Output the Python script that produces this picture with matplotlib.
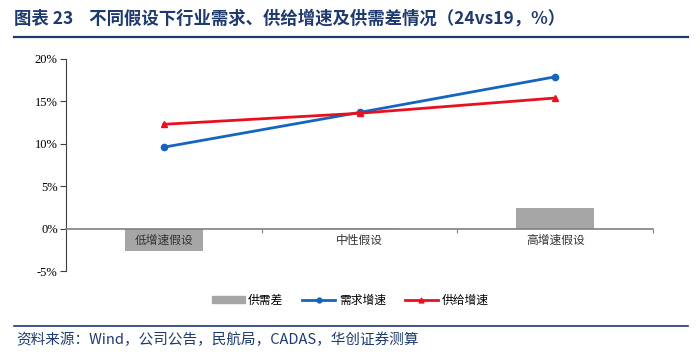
import matplotlib as mpl
import matplotlib.pyplot as plt
from matplotlib.lines import Line2D
from matplotlib.patches import Patch
import numpy as np

plt.rcParams['font.family'] = ['Noto Sans CJK SC', 'DejaVu Sans']

# data
categories = ['低增速假设', '中性假设', '高增速假设']
demand = [9.6, 13.7, 17.9]     # 需求增速
supply = [12.3, 13.6, 15.4]    # 供给增速
gap = [-2.7, 0.1, 2.4]         # 供需差
yticks = [-5, 0, 5, 10, 15, 20]

navy = '#1F3A6E'
blue = '#1565C0'
red = '#E8101E'
grey = '#A6A6A6'

fig = plt.figure(figsize=(7, 3.57), dpi=100)
W, H = 700, 357
ax = fig.add_axes([66 / W, 1 - 271 / H, (653 - 66) / W, (271 - 59) / H])

x = np.arange(len(categories))
ax.bar(x, gap, width=0.4, color=grey, zorder=1)
ax.plot(x, demand, color=blue, lw=2, marker='o', ms=4.5, zorder=3)
ax.plot(x, supply, color=red, lw=2, marker='^', ms=4.5, zorder=3)

ax.set_xlim(-0.5, 2.5)
ax.set_ylim(-5, 20)
ax.set_yticks(yticks)
ax.set_yticklabels([f'{v}%' for v in yticks], fontfamily='Liberation Serif', fontsize=9)

for s in ['top', 'right']:
    ax.spines[s].set_visible(False)
ax.spines['left'].set_color('#404040')
ax.spines['left'].set_linewidth(0.8)
ax.spines['bottom'].set_position(('data', 0))
ax.spines['bottom'].set_color('#808080')
ax.spines['bottom'].set_linewidth(1.2)
ax.tick_params(axis='y', length=4, width=0.8, color='#404040', pad=2)

ax.set_xticks(x)
ax.set_xticklabels(categories, fontsize=8.5, color='#333333')
ax.tick_params(axis='x', which='major', length=0, pad=4)
ax.set_xticks([0.5, 1.5, 2.5], minor=True)
ax.tick_params(axis='x', which='minor', length=3, width=0.8, color='#808080')

handles = [Patch(color=grey),
           Line2D([], [], color=blue, lw=2, marker='o', ms=3.5),
           Line2D([], [], color=red, lw=2, marker='^', ms=3.5)]
fig.legend(handles, ['供需差', '需求增速', '供给增速'], loc='center',
           bbox_to_anchor=(350 / W, 1 - 300 / H), ncol=3, frameon=False,
           fontsize=8.5, handlelength=2.8, handleheight=0.5, columnspacing=1.6,
           handletextpad=0.3)

# title and source
fig.text(14 / W, 1 - 19 / H, '图表 23    不同假设下行业需求、供给增速及供需差情况（24vs19，%）',
         fontsize=12.5, fontweight='bold', color=navy, va='center')
fig.add_artist(Line2D([14 / W, 688 / W], [1 - 37 / H, 1 - 37 / H], color=navy, lw=1.6))
fig.add_artist(Line2D([14 / W, 688 / W], [1 - 326 / H, 1 - 326 / H], color=navy, lw=1.2))
fig.text(16 / W, 1 - 340 / H, '资料来源：Wind，公司公告，民航局，CADAS，华创证券测算',
         fontsize=10.5, style='italic', color=navy, va='center')

fig.savefig('out.png', dpi=100)
